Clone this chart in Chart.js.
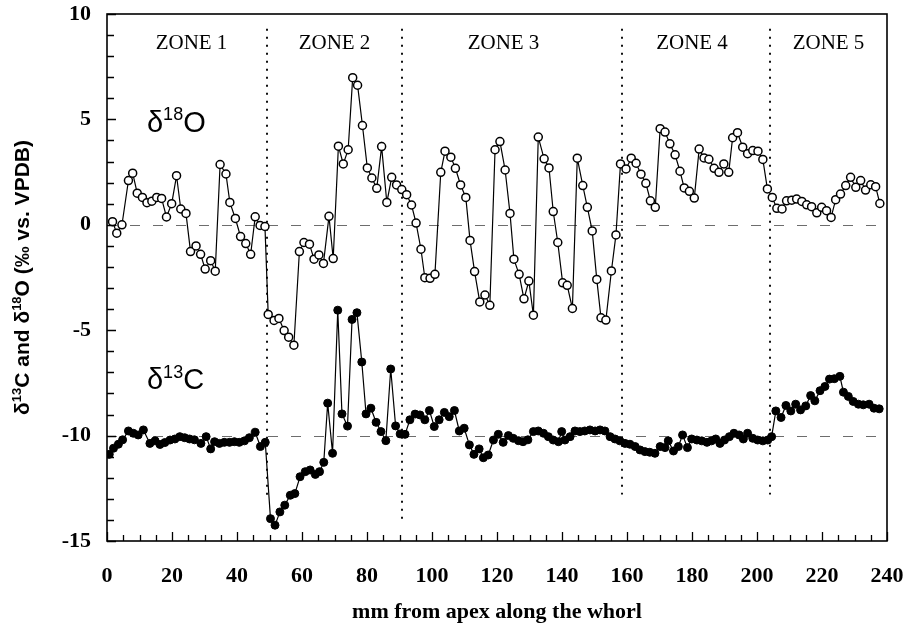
<!DOCTYPE html>
<html>
<head>
<meta charset="utf-8">
<script src="https://cdn.jsdelivr.net/npm/chart.js@4.4.1/dist/chart.umd.min.js"></script>
<style>
    html, body { margin: 0; padding: 0; background: #ffffff; }
    #wrap { width: 911px; height: 623px; position: relative; }
</style>
</head>
<body>
<div id="wrap"><canvas id="isoChart"></canvas></div>
<script>
// d18O (open circles): position along whorl (mm) and value (permil)
const o18Pos = [1.7, 3.0, 4.6, 6.6, 7.9, 9.3, 10.9, 12.3, 13.8, 15.3, 16.8, 18.3, 19.9, 21.4, 22.7, 24.3,
    25.7, 27.4, 28.8, 30.2, 31.9, 33.3, 34.8, 36.6, 37.8, 39.5, 41.1, 42.7, 44.2, 45.6, 47.1, 48.6,
    49.6, 51.4, 52.9, 54.5, 55.9, 57.5, 59.2, 60.6, 62.3, 63.7, 65.2, 66.6, 68.3, 69.6, 71.2, 72.7,
    74.2, 75.6, 77.1, 78.6, 80.1, 81.5, 83.0, 84.5, 86.1, 87.6, 89.1, 90.7, 92.2, 93.7, 95.1, 96.6,
    97.8, 99.4, 100.9, 102.7, 104.0, 105.8, 107.2, 108.8, 110.4, 111.7, 113.1, 114.7, 116.3, 117.8,
    119.4, 120.9, 122.5, 124.0, 125.2, 126.8, 128.3, 129.8, 131.2, 132.7, 134.5, 136.0, 137.3, 138.7,
    140.2, 141.6, 143.2, 144.7, 146.4, 147.8, 149.3, 150.7, 152.0, 153.5, 155.2, 156.6, 158.0, 159.7,
    161.3, 162.8, 164.3, 165.8, 167.2, 168.7, 170.2, 171.7, 173.2, 174.8, 176.3, 177.6, 179.2, 180.7,
    182.2, 183.7, 185.2, 186.8, 188.3, 189.8, 191.3, 192.5, 194.0, 195.6, 197.1, 198.7, 200.3, 201.8,
    203.2, 204.7, 206.1, 207.7, 209.1, 210.7, 212.2, 213.8, 215.3, 216.8, 218.4, 219.9, 221.4, 222.8,
    224.2, 225.7, 227.3, 228.8, 230.4, 231.9, 233.4, 235.0, 236.5, 237.8];
const o18Val = [0.15, -0.4, 0.0, 2.1, 2.45, 1.5, 1.3, 1.05, 1.12, 1.3, 1.25, 0.37, 1.0, 2.33, 0.75, 0.54,
    -1.27, -1.0, -1.4, -2.1, -1.7, -2.2, 2.86, 2.41, 1.06, 0.3, -0.56, -0.89, -1.4, 0.38, -0.03, -0.08,
    -4.25, -4.54, -4.44, -5.02, -5.33, -5.71, -1.27, -0.84, -0.92, -1.63, -1.43, -1.83, 0.4, -1.6, 3.73, 2.89,
    3.56, 6.98, 6.62, 4.71, 2.7, 2.22, 1.73, 3.71, 1.06, 2.25, 1.89, 1.67, 1.43, 0.94, 0.08, -1.16,
    -2.51, -2.54, -2.35, 2.49, 3.49, 3.21, 2.68, 1.89, 1.3, -0.74, -2.22, -3.66, -3.33, -3.82,
    3.56, 3.95, 2.6, 0.54, -1.63, -2.35, -3.51, -2.67, -4.29, 4.16, 3.13, 2.7, 0.63, -0.84,
    -2.75, -2.87, -3.97, 3.16, 1.86, 0.83, -0.29, -2.59, -4.41, -4.52, -2.19, -0.48, 2.89, 2.65,
    3.16, 2.92, 2.4, 1.97, 1.14, 0.83, 4.56, 4.4, 3.84, 3.32, 2.54, 1.75, 1.59, 1.27,
    3.59, 3.17, 3.11, 2.68, 2.49, 2.89, 2.49, 4.13, 4.37, 3.68, 3.37, 3.52, 3.49, 3.1,
    1.7, 1.3, 0.78, 0.75, 1.14, 1.17, 1.22, 1.11, 0.95, 0.86, 0.57, 0.83, 0.67, 0.35,
    1.19, 1.46, 1.86, 2.25, 1.78, 2.1, 1.65, 1.9, 1.81, 1.01];

// d13C (filled circles)
const c13Pos = [0.7, 2.0, 3.5, 4.8, 6.6, 8.1, 9.6, 11.2, 13.2, 14.8, 16.3, 17.8, 19.4, 20.9, 22.4, 23.9,
    25.4, 26.9, 28.9, 30.5, 31.9, 33.1, 34.6, 36.1, 37.7, 39.2, 40.7, 42.3, 43.8, 45.6, 47.2, 48.7,
    50.3, 51.7, 53.2, 54.7, 56.4, 57.8, 59.4, 61.0, 62.5, 64.1, 65.4, 66.7, 67.9, 69.4, 71.0, 72.3,
    74.0, 75.4, 76.9, 78.4, 79.7, 81.2, 82.8, 84.3, 85.8, 87.3, 88.8, 90.2, 91.7, 93.2, 94.8, 96.3,
    97.8, 99.2, 100.7, 102.2, 103.8, 105.3, 106.9, 108.4, 109.9, 111.5, 112.9, 114.5, 115.8, 117.3,
    118.9, 120.4, 121.9, 123.5, 125.0, 126.6, 128.0, 129.5, 131.2, 132.7, 134.3, 135.8, 137.3, 138.9,
    139.9, 140.9, 142.5, 144.0, 145.5, 147.0, 148.6, 150.2, 151.7, 153.2, 154.8, 156.3, 157.8, 159.4,
    160.9, 162.5, 164.0, 165.5, 167.0, 168.6, 170.2, 171.7, 172.7, 174.3, 175.8, 177.1, 178.6, 179.9,
    181.5, 183.0, 184.6, 186.0, 187.3, 188.6, 190.0, 191.5, 192.9, 194.5, 195.8, 197.1, 198.7, 200.2,
    201.8, 203.3, 204.5, 205.8, 207.4, 208.9, 210.4, 211.9, 213.4, 215.0, 216.5, 217.8, 219.4, 220.9,
    222.3, 223.8, 225.5, 226.6, 228.1, 229.6, 231.2, 232.7, 234.5, 236.0, 237.6];
const c13Val = [-10.89, -10.6, -10.41, -10.2, -9.78, -9.89, -9.97, -9.73, -10.37, -10.25, -10.42, -10.33, -10.21, -10.16, -10.05, -10.1,
    -10.16, -10.2, -10.37, -10.05, -10.63, -10.29, -10.37, -10.32, -10.32, -10.29, -10.32, -10.25, -10.1, -9.84, -10.52, -10.32,
    -13.94, -14.25, -13.62, -13.3, -12.83, -12.75, -11.95, -11.71, -11.63, -11.84, -11.71, -11.27, -8.46, -10.84, -4.05, -8.97,
    -9.55, -4.49, -4.17, -6.51, -8.97, -8.7, -9.37, -9.81, -10.24, -6.84, -9.54, -9.92, -9.94, -9.25, -8.98, -9.02,
    -9.25, -8.81, -9.57, -9.25, -8.9, -9.1, -8.81, -9.78, -9.65, -10.44, -10.89, -10.63, -11.05, -10.92,
    -10.21, -9.94, -10.32, -10.0, -10.13, -10.24, -10.29, -10.2, -9.81, -9.78, -9.89, -10.05, -10.21, -10.29,
    -9.81, -10.21, -10.05, -9.78, -9.81, -9.78, -9.73, -9.78, -9.73, -9.78, -10.05, -10.16, -10.25, -10.37,
    -10.41, -10.52, -10.68, -10.76, -10.79, -10.84, -10.52, -10.57, -10.25, -10.73, -10.52, -9.97, -10.57, -10.16,
    -10.21, -10.25, -10.32, -10.25, -10.16, -10.37, -10.21, -10.05, -9.89, -9.97, -10.16, -9.89, -10.13, -10.21,
    -10.25, -10.21, -10.05, -8.83, -9.14, -8.57, -8.83, -8.51, -8.78, -8.59, -8.1, -8.35, -7.87, -7.67,
    -7.32, -7.3, -7.19, -7.94, -8.14, -8.38, -8.51, -8.54, -8.51, -8.7, -8.73];

// zones: boundaries (mm), how far down each dotted line reaches, names and label positions
const zoneBounds = [49.2, 90.8, 158.5, 204.0];
const zoneLineBottom = [-13.0, -14.0, -12.8, -12.8];
const zoneNames = ['ZONE 1', 'ZONE 2', 'ZONE 3', 'ZONE 4', 'ZONE 5'];
const zoneLabelPos = [26, 70, 122, 180, 222];
const refLevels = [0, -10];

const SERIF = '"Liberation Serif", "Times New Roman", serif';
const SANS = '"Liberation Sans", Arial, sans-serif';

function toPoints(xs, ys) {
    return xs.map((x, i) => ({ x: x, y: ys[i] }));
}

// draw text made of normal and superscript pieces, starting at x (left), baseline y
function drawRich(ctx, parts, x, y, size, weight) {
    const supSize = Math.round(size * 0.62);
    let cx = x;
    parts.forEach(p => {
        const fs = p.sup ? supSize : size;
        ctx.font = `${weight} ${fs}px ${SANS}`;
        ctx.fillText(p.t, cx, p.sup ? y - size * 0.4 : y);
        cx += ctx.measureText(p.t).width;
    });
}

function richWidth(ctx, parts, size, weight) {
    const supSize = Math.round(size * 0.62);
    let w = 0;
    parts.forEach(p => {
        ctx.font = `${weight} ${p.sup ? supSize : size}px ${SANS}`;
        w += ctx.measureText(p.t).width;
    });
    return w;
}

const decorPlugin = {
    id: 'decor',
    beforeDatasetsDraw(chart) {
        const { ctx, chartArea: a, scales: { x, y } } = chart;
        ctx.save();
        // dashed reference lines
        ctx.strokeStyle = '#6d6d6d';
        ctx.lineWidth = 1;
        ctx.setLineDash([10, 13]);
        refLevels.forEach(v => {
            const py = Math.round(y.getPixelForValue(v)) + 0.5;
            ctx.beginPath();
            ctx.moveTo(a.left, py);
            ctx.lineTo(a.right, py);
            ctx.stroke();
        });
        // dotted zone boundaries
        ctx.strokeStyle = '#111';
        ctx.lineWidth = 2;
        ctx.setLineDash([2, 6]);
        zoneBounds.forEach((b, i) => {
            const px = Math.round(x.getPixelForValue(b));
            ctx.beginPath();
            ctx.moveTo(px, y.getPixelForValue(9.3));
            ctx.lineTo(px, y.getPixelForValue(zoneLineBottom[i]));
            ctx.stroke();
        });
        ctx.restore();
    },
    afterDraw(chart) {
        const { ctx, chartArea: a, scales: { x, y } } = chart;
        ctx.save();
        // frame
        ctx.strokeStyle = '#000';
        ctx.lineWidth = 1.6;
        ctx.setLineDash([]);
        ctx.strokeRect(a.left, a.top, a.right - a.left, a.bottom - a.top);

        // inward ticks
        ctx.lineWidth = 1.3;
        ctx.beginPath();
        for (let v = 0; v <= 240; v += 5) {
            const px = Math.round(x.getPixelForValue(v)) + 0.5;
            const len = v % 20 === 0 ? 9 : 6;
            ctx.moveTo(px, a.bottom);
            ctx.lineTo(px, a.bottom - len);
        }
        for (let v = -15; v <= 10; v += 1) {
            const py = Math.round(y.getPixelForValue(v)) + 0.5;
            const len = v % 5 === 0 ? 9 : 7;
            ctx.moveTo(a.left, py);
            ctx.lineTo(a.left + len, py);
        }
        ctx.stroke();

        // zone names
        ctx.fillStyle = '#000';
        ctx.font = `21px ${SERIF}`;
        ctx.textAlign = 'center';
        ctx.textBaseline = 'middle';
        zoneNames.forEach((n, i) => {
            ctx.fillText(n, x.getPixelForValue(zoneLabelPos[i]), y.getPixelForValue(8.6));
        });

        // series labels
        ctx.textAlign = 'left';
        ctx.textBaseline = 'alphabetic';
        drawRich(ctx, [{ t: 'δ' }, { t: '18', sup: true }, { t: 'O' }],
            x.getPixelForValue(12.3), y.getPixelForValue(4.4), 29, 'normal');
        drawRich(ctx, [{ t: 'δ' }, { t: '13', sup: true }, { t: 'C' }],
            x.getPixelForValue(12.3), y.getPixelForValue(-7.8), 29, 'normal');

        // y axis title (rotated)
        const yTitle = [{ t: 'δ' }, { t: '13', sup: true }, { t: 'C and δ' }, { t: '18', sup: true },
            { t: 'O (‰ vs. VPDB)' }];
        const w = richWidth(ctx, yTitle, 21, 'bold');
        ctx.translate(29, (a.top + a.bottom) / 2);
        ctx.rotate(-Math.PI / 2);
        drawRich(ctx, yTitle, -w / 2, 0, 21, 'bold');
        ctx.restore();

        // x axis title
        ctx.save();
        ctx.fillStyle = '#000';
        ctx.font = `bold 22px ${SERIF}`;
        ctx.textAlign = 'center';
        ctx.textBaseline = 'alphabetic';
        ctx.fillText('mm from apex along the whorl', (a.left + a.right) / 2, 618);
        ctx.restore();
    }
};

document.addEventListener('DOMContentLoaded', function() {
    const ctx = document.getElementById('isoChart').getContext('2d');
    new Chart(ctx, {
        type: 'line',
        data: {
            datasets: [{
                label: 'd18O',
                data: toPoints(o18Pos, o18Val),
                borderColor: '#000',
                borderWidth: 1.2,
                pointRadius: 4,
                pointBorderWidth: 1.5,
                pointBackgroundColor: '#fff',
                pointBorderColor: '#000',
                tension: 0,
            }, {
                label: 'd13C',
                data: toPoints(c13Pos, c13Val),
                borderColor: '#000',
                borderWidth: 1.2,
                pointRadius: 4,
                pointBorderWidth: 1,
                pointBackgroundColor: '#000',
                pointBorderColor: '#000',
                tension: 0,
            }],
        },
        options: {
            responsive: true,
            maintainAspectRatio: false,
            animation: false,
            devicePixelRatio: 1,
            layout: { padding: { top: 14, right: 24, left: 0, bottom: 0 } },
            plugins: {
                legend: { display: false },
                tooltip: { enabled: false },
            },
            scales: {
                x: {
                    type: 'linear',
                    min: 0,
                    max: 240,
                    grid: { display: false, drawTicks: false },
                    border: { display: false },
                    ticks: {
                        stepSize: 20,
                        color: '#000',
                        padding: 22,
                        font: { family: SERIF, size: 22, weight: 'bold' },
                    },
                    afterFit: scale => {
                        scale.height = 82;
                        scale.paddingLeft = 0;
                        scale.paddingRight = 0;
                    },
                },
                y: {
                    min: -15,
                    max: 10,
                    grid: { display: false, drawTicks: false },
                    border: { display: false },
                    ticks: {
                        stepSize: 5,
                        color: '#000',
                        padding: 16,
                        font: { family: SERIF, size: 22, weight: 'bold' },
                    },
                    afterFit: scale => {
                        scale.width = 107;
                        scale.paddingTop = 0;
                        scale.paddingBottom = 0;
                    },
                },
            },
        },
        plugins: [decorPlugin],
    });
});
</script>
</body>
</html>
